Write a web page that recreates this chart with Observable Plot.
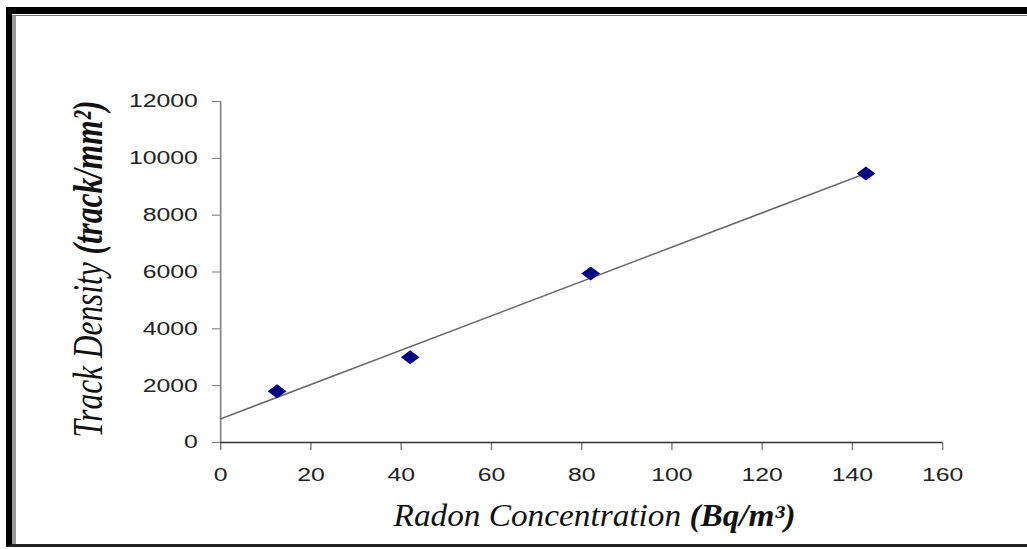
<!DOCTYPE html>
<html><head><meta charset="utf-8">
<script src="https://cdn.jsdelivr.net/npm/d3@7"></script>
<script src="https://cdn.jsdelivr.net/npm/@observablehq/plot@0.6"></script>
<style>
html,body{margin:0;padding:0;background:#fff;width:1027px;height:549px;overflow:hidden;}
#wrap{position:relative;width:1027px;height:549px;overflow:hidden;}
#chart{position:absolute;left:0;top:0;}
#frame{position:absolute;left:6px;top:7px;width:1100px;height:530px;border-top:7px solid #000;border-left:6px solid #000;border-bottom:3px solid #222;pointer-events:none;}
#frame::after{content:"";position:absolute;left:0;top:1px;right:0;bottom:0;border-top:1px solid #777;border-left:4px solid #999;}
</style></head>
<body>
<div id="wrap"><div id="chart"></div><div id="frame"></div></div>
<script>
// Data
const radon = [12.5, 42, 82, 143];
const density = [1800, 3000, 5950, 9470];
const xTicks = [0, 20, 40, 60, 80, 100, 120, 140, 160];
const yTicks = [0, 2000, 4000, 6000, 8000, 10000, 12000];
const trendX = [0, 143];
const xLabelMain = "Radon Concentration ";
const xLabelBold = "(Bq/m³)";
const yLabelMain = "Track Density ";
const yLabelBold = "(track/mm²)";

const points = radon.map((x, i) => ({x, y: density[i]}));
// least-squares trend line
const mx = d3.mean(radon), my = d3.mean(density);
const slope = d3.sum(points, p => (p.x - mx) * (p.y - my)) / d3.sum(points, p => (p.x - mx) ** 2);
const intercept = my - slope * mx;
const trend = trendX.map(x => ({x, y: intercept + slope * x}));

const S = 1.3407; // horizontal stretch of the original picture
const W = 1027 / S;
const serif = "'Liberation Serif', 'Times New Roman', serif";

const plot = Plot.plot({
  width: W, height: 549,
  marginLeft: 220 / S, marginRight: (1027 - 942) / S, marginTop: 101, marginBottom: 107,
  style: {fontFamily: "'Liberation Sans', Arial, sans-serif", fontSize: "18.5px", color: "#222", background: "transparent", overflow: "visible"},
  x: {domain: [0, 160]},
  y: {domain: [0, 12000]},
  marks: [
    Plot.axisX({ticks: xTicks, tickSize: 8, tickPadding: 17, label: null, tickFormat: d => String(d), stroke: "#777", fill: "#222"}),
    Plot.axisY({ticks: yTicks, tickSize: 6, tickPadding: 11, label: null, tickFormat: d => String(d), stroke: "#777", fill: "#222"}),
    Plot.ruleY([0], {stroke: "#333", strokeWidth: 1.3}),
    Plot.ruleX([0], {stroke: "#888", strokeWidth: 1.3}),
    Plot.line(trend, {x: "x", y: "y", stroke: "#666", strokeWidth: 1.4}),
    Plot.dot(points, {x: "x", y: "y", symbol: "diamond2", r: 6.3, fill: "#000080", stroke: "none"}),
    Plot.text([yLabelMain + yLabelBold], {frameAnchor: "left", dx: 66 - 220 / S, dy: -3, rotate: -90, textAnchor: "middle", lineAnchor: "middle", fontFamily: serif, fontStyle: "italic", fontSize: 31, fill: "#111"}),
    Plot.text([xLabelMain + xLabelBold], {frameAnchor: "bottom", dx: 9.6, dy: 74, textAnchor: "middle", lineAnchor: "middle", fontFamily: serif, fontStyle: "italic", fontSize: 31, fill: "#111"})
  ]
});

plot.style.transformOrigin = "0 0";
plot.style.transform = `scaleX(${S})`;
plot.style.maxWidth = "none";
document.getElementById("chart").appendChild(plot);

// mixed-weight axis labels, fitted to the reference's label lengths
function splitLabel(node, main, bold, len) {
  node.textContent = "";
  const s = d3.select(node);
  s.append("tspan").text(main);
  s.append("tspan").attr("font-weight", "bold").text(bold);
  const L = node.getComputedTextLength();
  const k = len / L;
  const tr = s.attr("transform") || "";
  s.attr("transform", `${tr} scale(${k},1)`);
}
d3.select(plot).selectAll("text").each(function() {
  const t = this.textContent;
  if (t === yLabelMain + yLabelBold) splitLabel(this, yLabelMain, yLabelBold, 337);
  else if (t === xLabelMain + xLabelBold) splitLabel(this, xLabelMain, xLabelBold, 402 / S);
});
</script>
</body></html>
